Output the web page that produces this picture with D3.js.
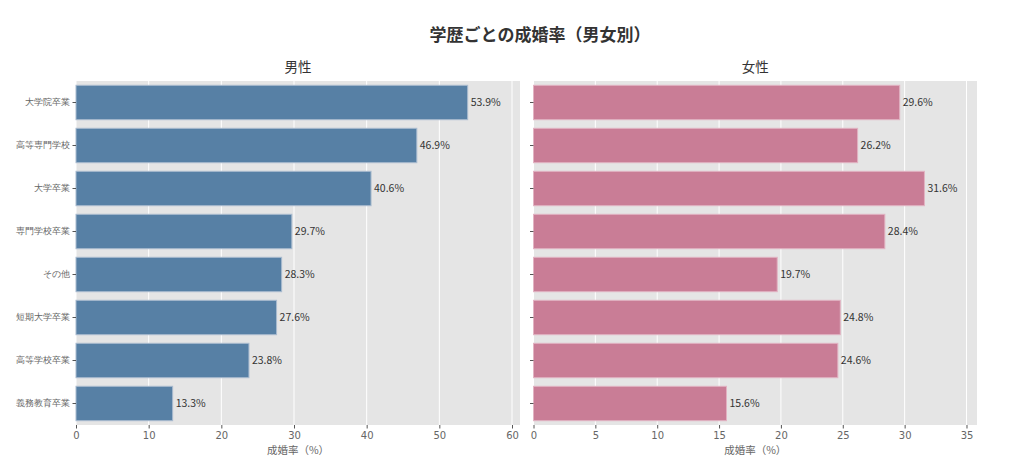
<!DOCTYPE html>
<html>
<head>
<meta charset="utf-8">
<script src="https://cdn.jsdelivr.net/npm/d3@7"></script>
<style>
	body { margin: 0; background: #fff; }
	svg { font-family: "Noto Sans CJK JP", "Noto Sans", sans-serif; }
</style>
</head>
<body>
<svg id="chart" width="1024" height="467"></svg>
<script>
// Education categories, top to bottom
var categories = ["大学院卒業", "高等専門学校", "大学卒業", "専門学校卒業", "その他", "短期大学卒業", "高等学校卒業", "義務教育卒業"];

// Marriage rate (%)
var maleRates = [53.9, 46.9, 40.6, 29.7, 28.3, 27.6, 23.8, 13.3];
var femaleRates = [29.6, 26.2, 31.6, 28.4, 19.7, 24.8, 24.6, 15.6];

var maleTicks = [0, 10, 20, 30, 40, 50, 60];
var femaleTicks = [0, 5, 10, 15, 20, 25, 30, 35];

var svg = d3.select("#chart");

svg.append("text")
	.attr("x", 540)
	.attr("y", 41)
	.attr("text-anchor", "middle")
	.style("font-size", "17px")
	.style("font-weight", "bold")
	.style("fill", "#333")
	.text("学歴ごとの成婚率（男女別）");

// window.top is reserved, so use other names
var plotTop = 81, plotBottom = 425;

function drawPanel(opts){
	var x = d3.scaleLinear().domain([0, opts.xMax]).range([opts.left, opts.right]),
		y = d3.scaleBand().domain(categories).range([plotTop, plotBottom]).paddingInner(0.2).paddingOuter(0.1),
		g = svg.append("g");

	g.append("rect")
		.attr("x", opts.left)
		.attr("y", plotTop)
		.attr("width", opts.right - opts.left)
		.attr("height", plotBottom - plotTop)
		.style("fill", "#e5e5e5");

	// vertical grid
	g.selectAll("line.grid")
		.data(opts.ticks)
		.enter()
		.append("line")
		.attr("class", "grid")
		.attr("x1", function(d){ return x(d); })
		.attr("x2", function(d){ return x(d); })
		.attr("y1", plotTop)
		.attr("y2", plotBottom)
		.style("stroke", "#fff")
		.style("stroke-width", 1);

	g.selectAll("rect.bar")
		.data(opts.values)
		.enter()
		.append("rect")
		.attr("class", "bar")
		.attr("x", x(0))
		.attr("y", function(d, i){ return y(categories[i]); })
		.attr("width", function(d){ return x(d) - x(0); })
		.attr("height", y.bandwidth())
		.style("fill", opts.fill)
		.style("stroke", opts.edge)
		.style("stroke-width", 1);

	g.selectAll("text.value")
		.data(opts.values)
		.enter()
		.append("text")
		.attr("class", "value")
		.attr("x", function(d){ return x(d) + 3; })
		.attr("y", function(d, i){ return y(categories[i]) + y.bandwidth() / 2; })
		.attr("dy", "0.35em")
		.style("font-size", "10.5px")
		.style("fill", "#333")
		.text(function(d){ return d.toFixed(1) + "%"; });

	var xAxis = g.append("g")
		.attr("transform", "translate(0," + plotBottom + ")")
		.call(d3.axisBottom(x).tickValues(opts.ticks).tickSize(3.5).tickPadding(3));
	xAxis.select(".domain").remove();
	xAxis.selectAll("line").style("stroke", "#555");
	xAxis.selectAll("text").style("fill", "#666").style("font-size", "10px")
		.style("font-family", "'DejaVu Sans', sans-serif");

	var yAxis = g.append("g")
		.attr("transform", "translate(" + opts.left + ",0)")
		.call(d3.axisLeft(y).tickSize(3.5).tickPadding(3).tickFormat(opts.showLabels ? null : ""));
	yAxis.select(".domain").remove();
	yAxis.selectAll("line").style("stroke", "#555");
	yAxis.selectAll("text").style("fill", "#666").style("font-size", "9px");

	g.append("text")
		.attr("x", (opts.left + opts.right) / 2)
		.attr("y", 454)
		.attr("text-anchor", "middle")
		.style("font-size", "10.5px")
		.style("fill", "#666")
		.text("成婚率（%）");

	g.append("text")
		.attr("x", (opts.left + opts.right) / 2)
		.attr("y", 72)
		.attr("text-anchor", "middle")
		.style("font-size", "13.5px")
		.style("fill", "#333")
		.text(opts.title);
}

drawPanel({
	title : "男性",
	values : maleRates,
	ticks : maleTicks,
	xMax : 61.1,
	left : 76,
	right : 520,
	fill : "#5780a5",
	edge : "#a9bbcf",
	showLabels : true
});

drawPanel({
	title : "女性",
	values : femaleRates,
	ticks : femaleTicks,
	xMax : 35.85,
	left : 533.5,
	right : 977,
	fill : "#c97d96",
	edge : "#e2b3c2",
	showLabels : false
});
</script>
</body>
</html>
